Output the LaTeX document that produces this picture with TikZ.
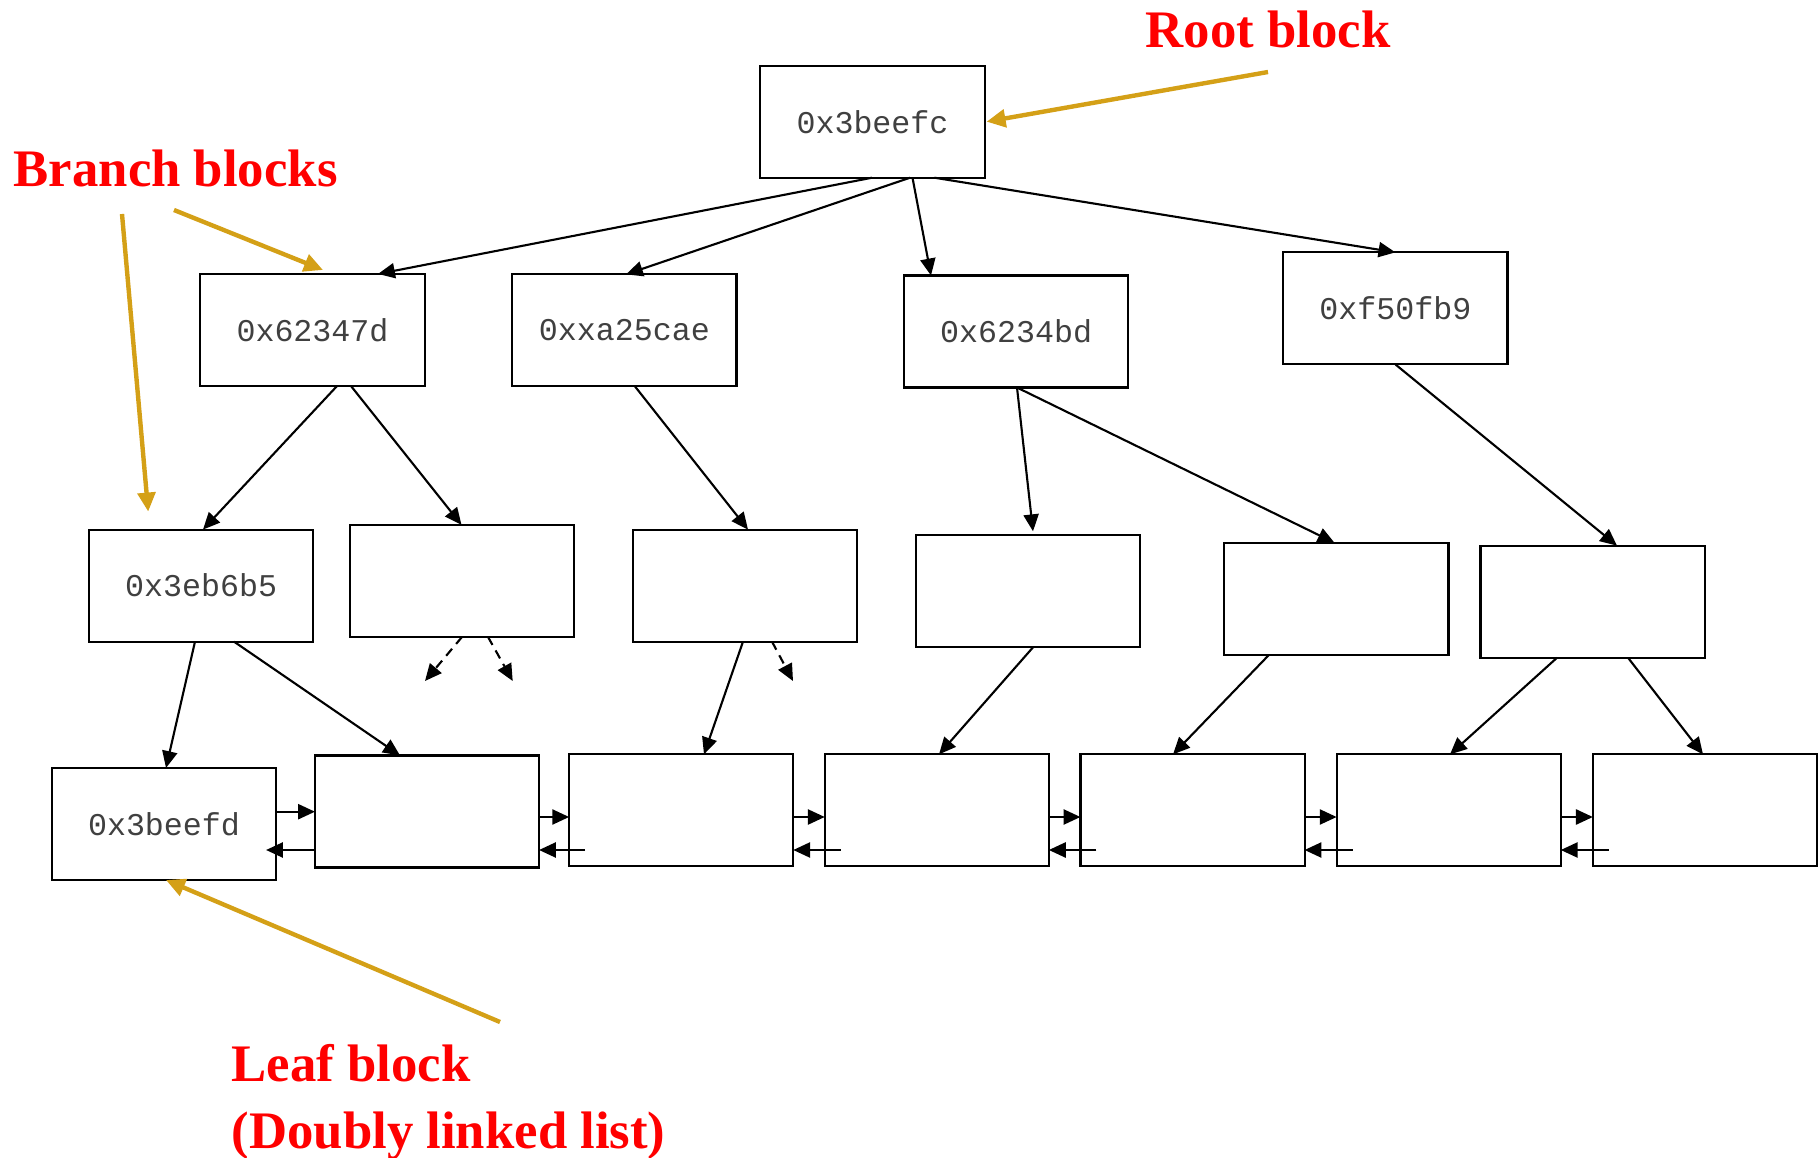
\documentclass[tikz,border=0pt]{standalone}
\usepackage{fontspec}
\setmainfont{Liberation Serif}
\setmonofont{Liberation Mono}
\usepackage{xcolor}
\usetikzlibrary{arrows.meta,calc}

\definecolor{notered}{RGB}{255,0,0}
\definecolor{pointgold}{RGB}{212,160,23}

\begin{document}
\begin{tikzpicture}[
    x=0.01cm, y=-0.01cm,
    block/.style={draw, line width=0.6pt, minimum width=2.24cm, minimum height=1.12cm, inner sep=0pt, outer sep=0pt, text=black!75, font=\ttfamily\fontsize{9}{10}\selectfont},
    link/.style={-{Triangle[length=4.8pt,width=4.3pt]}, line width=0.6pt},
    weak/.style={link, dash pattern=on 2.6pt off 1.8pt},
    hint/.style={-{Triangle[length=5.4pt,width=5pt]}, line width=1.25pt, color=pointgold},
    note/.style={text=notered, inner sep=0pt, align=left, font=\bfseries\fontsize{15}{19}\selectfont},
]
    \useasboundingbox (0,0) rectangle (1818,1158);

    % root and branch blocks
    \node[block] (root) at (872.5,121.7) {0x3beefc};
    \node[block] (b1) at (312.5,330) {0x62347d};
    \node[block] (b2) at (624.4,330.4) {0xxa25cae};
    \node[block] (b3) at (1016.2,331.5) {0x6234bd};
    \node[block] (b4) at (1395.4,308.4) {0xf50fb9};
    \node[block] (m1) at (201.2,585.6) {0x3eb6b5};
    \node[block] (m2) at (462,580.9) {};
    \node[block] (m3) at (744.9,585.6) {};
    \node[block] (m4) at (1027.8,591.3) {};
    \node[block] (m5) at (1336.4,598.8) {};
    \node[block] (m6) at (1592.5,601.7) {};

    % leaf blocks
    \node[block] (l1) at (164,824) {0x3beefd};
    \node[block] (l2) at (427,811.5) {};
    \node[block] (l3) at (681.2,810.4) {};
    \node[block] (l4) at (936.8,810.4) {};
    \node[block] (l5) at (1192.5,810.4) {};
    \node[block] (l6) at (1448.7,810.4) {};
    \node[block] (l7) at (1704.9,810.4) {};

    % labels
    \node[note, anchor=west] (rootlbl) at (1145,29) {Root block};
    \node[note, anchor=west] (branchlbl) at (13,168) {Branch blocks};
    \node[note, anchor=west] (leaflbl) at (231,1102) {Leaf block\\(Doubly linked list)};

    \coordinate (roottail) at (1268,72);
    \coordinate (branchtail1) at (174,210);
    \coordinate (branchtail2) at (122,214);
    \coordinate (leaftail) at (500,1022);
    \coordinate (f1) at (425,681);
    \coordinate (f2) at (512.7,681);
    \coordinate (g1) at (793,681);

    % tree pointers
    \draw[link] (root.south -| 872,0) -- (b1.north -| 378,0);
    \draw[link] (root.south -| 910,0) -- (b2.north -| 626,0);
    \draw[link] (root.south -| 912.5,0) -- (b3.north -| 931,0);
    \draw[link] (root.south -| 934.5,0) -- (b4.north);
    \draw[link] (b1.south -| 337,0) -- (m1.north -| 203,0);
    \draw[link] (b1.south -| 351,0) -- (m2.north -| 461.5,0);
    \draw[link] (b2.south -| 635,0) -- (m3.north -| 748,0);
    \draw[link] (b3.south -| 1017,0) -- ($(m4.north -| 1033,0)+(0,-4)$);
    \draw[link] (b3.south -| 1017,0) -- (m5.north -| 1334.5,0);
    \draw[link] (b4.south) -- (m6.north -| 1617,0);
    \draw[link] (m1.south -| 195,0) -- (l1.north -| 166,0);
    \draw[link] (m1.south -| 234,0) -- (l2.north -| 400,0);
    \draw[weak] (m2.south -| 462,0) -- (f1);
    \draw[weak] (m2.south -| 488,0) -- (f2);
    \draw[link] (m3.south -| 743,0) -- (l3.north -| 704,0);
    \draw[weak] (m3.south -| 772,0) -- (g1);
    \draw[link] (m4.south -| 1033,0) -- (l4.north -| 939,0);
    \draw[link] (m5.south -| 1269,0) -- (l5.north -| 1173,0);
    \draw[link] (m6.south -| 1557,0) -- (l6.north -| 1450,0);
    \draw[link] (m6.south -| 1628,0) -- (l7.north -| 1703,0);

    % doubly linked leaves
    \draw[link] (l1.east |- 0,811.7) -- (l2.west |- 0,811.7);
    \draw[link] (l2.west |- 0,850) -- ($(l1.east |- 0,850)+(-10,0)$);
    \foreach \a/\b in {l2/l3,l3/l4,l4/l5,l5/l6,l6/l7}{
        \draw[link] (\a.east |- 0,817) -- (\b.west |- 0,817);
        \draw[link] ($(\b.west |- 0,850)+(16,0)$) -- (\a.east |- 0,850);
    }

    % callouts
    \draw[hint] (roottail) -- ($(root.east)+(2,0)$);
    \draw[hint] (branchtail1) -- ($(b1.north -| 323,0)+(0,-4)$);
    \draw[hint] (branchtail2) -- ($(m1.north)+(-53,-18)$);
    \draw[hint] (leaftail) -- (l1.south -| 166,0);
\end{tikzpicture}
\end{document}
